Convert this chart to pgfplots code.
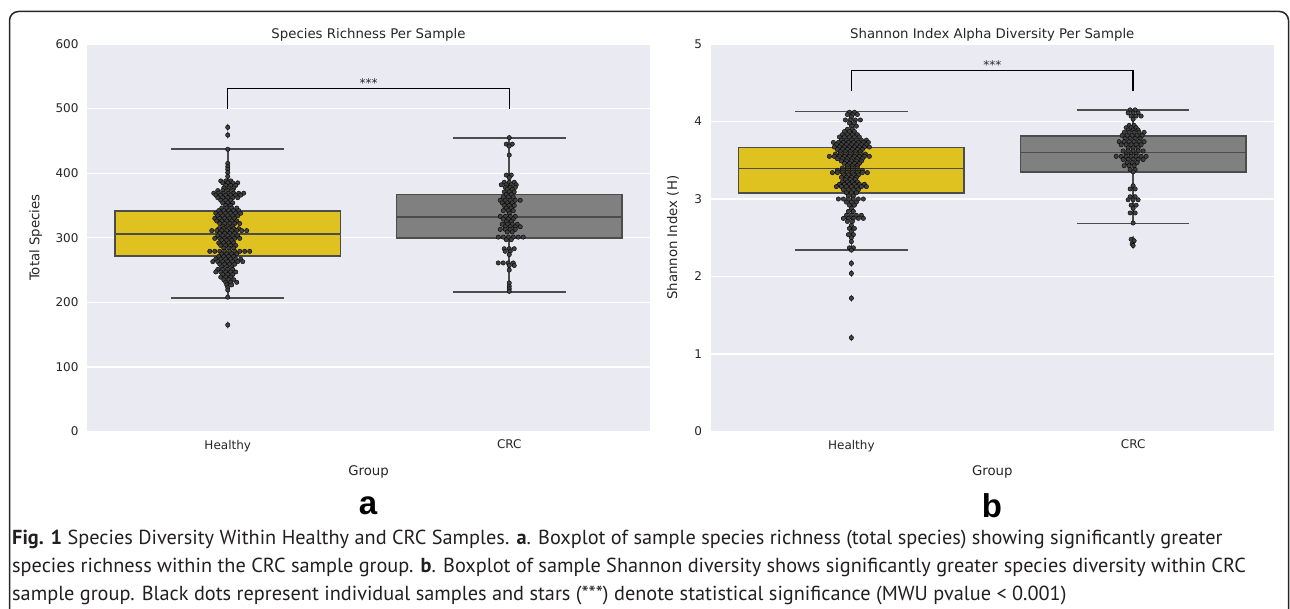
\documentclass[border=0pt]{standalone}
\usepackage{fontspec}
\setmainfont{DejaVu Sans}
\newfontfamily\capfont{PT Sans}
\newfontfamily\lblfont{Liberation Sans}
\usepackage{pgfplots}
\usepackage{pgfplotstable}
\pgfplotsset{compat=1.18}
\usepgfplotslibrary{statistics}

\definecolor{bgc}{HTML}{EAEAF2}
\definecolor{yel}{HTML}{DFC120}
\definecolor{gry}{HTML}{808080}
\definecolor{lc}{HTML}{4C4C4C}
\definecolor{dotc}{HTML}{404040}
\definecolor{tc}{HTML}{262626}
\definecolor{capc}{HTML}{231F20}

% swarm points: o = horizontal offset in px from the group centre, y = value
\pgfplotstableread[row sep=\\]{
o y\\
0 471\\ 0 459\\ 0 437\\ 0 415\\ 0 410\\ 0 406\\ 0 401\\ 0 395\\
-7 388\\ -2 388\\ 3 388\\
-5 385\\ 0 385\\ 5 385\\ 10 385\\
-2 381\\ 3 381\\ 8 381\\
-4 377\\ 1 377\\ 6 377\\
-10 373\\ -5 373\\ 0 373\\ 5 373\\
-14 369\\ -9 369\\ -4 369\\ 1 369\\ 6 369\\ 11 369\\ 16 369\\
-12 366\\ -7 366\\ -2 366\\ 3 366\\ 8 366\\ 13 366\\
-10 362\\ -5 362\\ 0 362\\ 5 362\\ 10 362\\
-7 358\\ -2 358\\ 3 358\\
-5 354\\ 0 354\\ 5 354\\
-2 350\\ 3 350\\
-6 346\\ -1 346\\ 4 346\\ 9 346\\
-9 342\\ -4 342\\ 1 342\\ 6 342\\ 11 342\\
-12 338\\ -7 338\\ -2 338\\ 3 338\\ 8 338\\ 13 338\\
-10 334\\ -5 334\\ 0 334\\ 5 334\\ 10 334\\
-13 330\\ -8 330\\ -3 330\\ 2 330\\ 7 330\\
-11 326\\ -6 326\\ -1 326\\ 4 326\\ 9 326\\
-8 322\\ -3 322\\ 2 322\\ 7 322\\ 12 322\\
-5 318\\ 0 318\\ 5 318\\
-9 314\\ -4 314\\ 1 314\\ 6 314\\ 11 314\\
-16 311\\ -11 311\\ -6 311\\ -1 311\\ 4 311\\ 9 311\\ 14 311\\ 19 311\\
-8 307\\ -3 307\\ 2 307\\ 7 307\\
-10 303\\ -5 303\\ 0 303\\ 5 303\\ 10 303\\
-13 299\\ -8 299\\ -3 299\\ 2 299\\ 7 299\\ 12 299\\
-6 296\\ -1 296\\ 4 296\\
-9 292\\ -4 292\\ 1 292\\ 6 292\\
-7 288\\ -2 288\\ 3 288\\ 8 288\\
-4 284\\ 1 284\\ 6 284\\
-18 279\\ -13 279\\ -8 279\\ -3 279\\ 2 279\\ 7 279\\ 12 279\\ 17 279\\ 22 279\\
-6 275\\ -1 275\\ 4 275\\ 9 275\\
-9 271\\ -4 271\\ 1 271\\ 6 271\\
-12 267\\ -7 267\\ -2 267\\ 3 267\\ 8 267\\ 13 267\\
-15 263\\ -10 263\\ -5 263\\ 0 263\\ 5 263\\ 10 263\\ 15 263\\
-8 259\\ -3 259\\ 2 259\\ 7 259\\
-6 255\\ -1 255\\ 4 255\\
-10 251\\ -5 251\\ 0 251\\ 5 251\\
-12 247\\ -7 247\\ -2 247\\ 3 247\\ 8 247\\
-5 243\\ 0 243\\ 5 243\\
-7 239\\ -2 239\\ 3 239\\
-4 235\\ 1 235\\ 6 235\\
-2 231\\ 3 231\\ 9 231\\
-1 227\\ 4 227\\
0 223\\ 0 219\\ 0 208\\ 0 165\\
}\richH

\pgfplotstableread[row sep=\\]{
o y\\
0 455\\ -3 445\\ 3 445\\ 0 442\\ 0 428\\
-3 397\\ 2 397\\ 0 393\\
-5 386\\ 0 386\\ 5 386\\
-8 382\\ -3 382\\ 2 382\\ 7 382\\
-4 378\\ 1 378\\ 6 378\\
-2 375\\ 3 375\\
-5 371\\ 0 371\\ 5 371\\
-3 367\\ 2 367\\
-6 363\\ -1 363\\ 4 363\\
-9 358\\ -4 358\\ 1 358\\ 6 358\\ 11 358\\
-7 354\\ -2 354\\ 3 354\\
-5 350\\ 0 350\\ 5 350\\
-3 346\\ 2 346\\
-6 342\\ -1 342\\ 4 342\\
0 338\\
-9 333\\ -4 333\\ 1 333\\ 6 333\\
-6 329\\ -1 329\\ 4 329\\
-3 325\\ 2 325\\
-7 321\\ -2 321\\ 3 321\\ 8 321\\
-4 317\\ 1 317\\ 6 317\\ 11 317\\
-9 313\\ -4 313\\ 1 313\\ 6 313\\
-2 309\\ 3 309\\
-11 301\\ -6 301\\ -1 301\\ 4 301\\ 9 301\\ 14 301\\
-3 297\\ 2 297\\
-5 283\\ 0 283\\ 5 283\\
-4 279\\ 1 279\\
0 274\\
-11 261\\ -6 261\\ -1 261\\ 4 261\\
0 257\\ 5 257\\
0 250\\
0 230\\ 0 225\\ 0 221\\ 0 217\\
}\richC

\pgfplotstableread[row sep=\\]{
o y\\
-2 4.12\\ 3 4.12\\
-4 4.09\\ 1 4.09\\ 6 4.09\\
0 4.06\\
-6 4.02\\ -1 4.02\\ 4 4.02\\ 9 4.02\\
-2 3.98\\ 3 3.98\\
0 3.94\\ 5 3.94\\
-4 3.90\\ 1 3.90\\
-7 3.87\\ -2 3.87\\ 3 3.87\\
-9 3.83\\ -4 3.83\\ 1 3.83\\ 6 3.83\\
-12 3.80\\ -7 3.80\\ -2 3.80\\ 3 3.80\\ 8 3.80\\
-10 3.76\\ -5 3.76\\ 0 3.76\\ 5 3.76\\ 10 3.76\\ 15 3.76\\
-18 3.73\\ -13 3.73\\ -8 3.73\\ -3 3.73\\ 2 3.73\\ 7 3.73\\ 12 3.73\\ 17 3.73\\
-15 3.70\\ -10 3.70\\ -5 3.70\\ 0 3.70\\ 5 3.70\\ 10 3.70\\ 15 3.70\\
-17 3.67\\ -12 3.67\\ -7 3.67\\ -2 3.67\\ 3 3.67\\ 8 3.67\\ 13 3.67\\ 18 3.67\\
-14 3.64\\ -9 3.64\\ -4 3.64\\ 1 3.64\\ 6 3.64\\ 11 3.64\\
-11 3.61\\ -6 3.61\\ -1 3.61\\ 4 3.61\\ 9 3.61\\
-16 3.58\\ -11 3.58\\ -6 3.58\\ -1 3.58\\ 4 3.58\\ 9 3.58\\ 14 3.58\\
-22 3.55\\ -17 3.55\\ -12 3.55\\ -7 3.55\\ -2 3.55\\ 3 3.55\\ 8 3.55\\ 13 3.55\\ 18 3.55\\
-14 3.52\\ -9 3.52\\ -4 3.52\\ 1 3.52\\ 6 3.52\\ 11 3.52\\
-10 3.49\\ -5 3.49\\ 0 3.49\\ 5 3.49\\ 10 3.49\\
-7 3.46\\ -2 3.46\\ 3 3.46\\ 8 3.46\\
-4 3.43\\ 1 3.43\\ 6 3.43\\
-9 3.40\\ -4 3.40\\ 1 3.40\\ 6 3.40\\
-14 3.37\\ -9 3.37\\ -4 3.37\\ 1 3.37\\ 6 3.37\\ 11 3.37\\
-19 3.34\\ -14 3.34\\ -9 3.34\\ -4 3.34\\ 1 3.34\\ 6 3.34\\ 11 3.34\\ 16 3.34\\
-8 3.31\\ -3 3.31\\ 2 3.31\\ 7 3.31\\
-10 3.28\\ -5 3.28\\ 0 3.28\\ 5 3.28\\
-6 3.25\\ -1 3.25\\ 4 3.25\\
-9 3.22\\ -4 3.22\\ 1 3.22\\ 6 3.22\\
-12 3.19\\ -7 3.19\\ -2 3.19\\ 3 3.19\\ 8 3.19\\ 13 3.19\\
-15 3.16\\ -10 3.16\\ -5 3.16\\ 0 3.16\\ 5 3.16\\ 10 3.16\\ 15 3.16\\
-8 3.12\\ -3 3.12\\ 2 3.12\\ 7 3.12\\
-5 3.08\\ 0 3.08\\ 5 3.08\\
-3 3.04\\ 2 3.04\\
-13 3.00\\ -8 3.00\\ -3 3.00\\ 2 3.00\\ 7 3.00\\ 12 3.00\\
-5 2.96\\ 0 2.96\\ 5 2.96\\
-2 2.92\\ 3 2.92\\
0 2.88\\
-3 2.84\\ 2 2.84\\
-5 2.79\\ 0 2.79\\ 5 2.79\\ 10 2.79\\
-8 2.75\\ -3 2.75\\ 2 2.75\\ 7 2.75\\ 12 2.75\\
-4 2.71\\ 1 2.71\\
0 2.66\\
-2 2.62\\ 3 2.62\\
0 2.58\\
-3 2.54\\ 2 2.54\\
0 2.50\\ 0 2.45\\
-2 2.37\\ 2 2.37\\ 0 2.34\\
0 2.17\\ 0 2.04\\ 0 1.72\\ 0 1.21\\
}\shanH

\pgfplotstableread[row sep=\\]{
o y\\
-3 4.15\\ 2 4.15\\
-5 4.11\\ 0 4.11\\ 5 4.11\\
-2 4.07\\ 3 4.07\\ 8 4.07\\
0 4.03\\
-4 3.95\\ 1 3.95\\
-7 3.92\\ -2 3.92\\ 3 3.92\\
-5 3.89\\ 0 3.89\\ 5 3.89\\
-9 3.86\\ -4 3.86\\ 1 3.86\\ 6 3.86\\ 11 3.86\\
-11 3.82\\ -6 3.82\\ -1 3.82\\ 4 3.82\\ 9 3.82\\
-8 3.78\\ -3 3.78\\ 2 3.78\\ 7 3.78\\
-14 3.74\\ -9 3.74\\ -4 3.74\\ 1 3.74\\ 6 3.74\\ 11 3.74\\
-12 3.70\\ -7 3.70\\ -2 3.70\\ 3 3.70\\ 8 3.70\\
-5 3.66\\ 0 3.66\\ 5 3.66\\
-10 3.62\\ -5 3.62\\ 0 3.62\\ 5 3.62\\ 10 3.62\\
-7 3.58\\ -2 3.58\\ 3 3.58\\
-17 3.55\\ -12 3.55\\ -7 3.55\\ -2 3.55\\ 3 3.55\\ 8 3.55\\ 13 3.55\\
-10 3.51\\ -5 3.51\\ 0 3.51\\ 5 3.51\\ 10 3.51\\
-6 3.47\\ -1 3.47\\ 4 3.47\\
-9 3.43\\ -4 3.43\\ 1 3.43\\
-3 3.38\\ 2 3.38\\
0 3.35\\
0 3.17\\
-3 3.13\\ 2 3.13\\
-3 3.03\\ 2 3.03\\
-5 2.99\\ 0 2.99\\ 5 2.99\\
-2 2.92\\ 3 2.92\\
0 2.88\\
-3 2.82\\ 2 2.82\\
0 2.69\\
-2 2.48\\ 1 2.46\\ -1 2.42\\ 0 2.40\\
}\shanC

\pgfplotsset{
  sbn/.style={
    scale only axis, height=387.5pt,
    anchor=south west,
    axis background/.style={fill=bgc},
    axis line style={draw=none},
    major tick length=0pt,
    ymajorgrids, grid style={white, line width=1.3pt},
    xmin=-0.5, xmax=1.5,
    xtick={0,1}, xticklabels={Healthy,CRC},
    tick label style={font=\fontsize{12}{14}\selectfont, text=tc},
    /pgf/number format/assume math mode=true,
    yticklabel style={xshift=-5pt},
    xticklabel style={yshift=-5pt},
    label style={font=\fontsize{13.3}{16}\selectfont, text=tc},
    xlabel style={at={(axis description cs:0.5,-0.1148)}, anchor=base},
    title style={font=\fontsize{13.3}{16}\selectfont, text=tc,
      at={(axis description cs:0.5,1)}, anchor=base, yshift=-0.5pt},
    clip=false,
    boxplot/draw direction=y,
    boxplot/every median/.style={draw=lc, line width=1.6pt},
    xlabel={Group},
  },
  swarm/.style={only marks, mark=*, mark size=2.2pt,
    mark options={fill=dotc, draw=none}},
  flier/.style={only marks, mark=diamond*, mark size=3.2pt,
    mark options={fill=lc, draw=lc, xscale=0.65}},
  bxs/.style={draw=lc, line width=1.6pt},
}

\begin{document}
\begin{tikzpicture}
\path[use as bounding box] (0,0) rectangle (1290pt,-609pt);
\draw[line width=1.5pt, color=black!85, rounded corners=9pt]
  (9.5pt,-640pt) -- (9.5pt,-11.5pt) -- (1288.5pt,-11.5pt) -- (1288.5pt,-640pt);

% ---- a: species richness
\begin{axis}[sbn, at={(87pt,-431.5pt)}, width=563pt,
  ymin=0, ymax=600, ytick={0,100,...,600},
  title={Species Richness Per Sample},
  ylabel={Total Species},
  ylabel style={at={(axis description cs:-0.0844,0.5)}, anchor=base}]
\addplot[bxs, fill=yel, boxplot prepared={draw position=0,
  lower whisker=207, lower quartile=271.7, median=305.7,
  upper quartile=341.8, upper whisker=437.8,
  box extend=0.8, whisker extend=0.4}] coordinates {};
\addplot[bxs, fill=gry, boxplot prepared={draw position=1,
  lower whisker=216, lower quartile=299.5, median=332,
  upper quartile=367, upper whisker=454.8,
  box extend=0.8, whisker extend=0.4}] coordinates {};
\addplot[flier] coordinates {(0,471) (0,459) (0,165)};
\addplot[swarm] table[x expr=\thisrow{o}/282, y=y] {\richH};
\addplot[swarm] table[x expr=1+\thisrow{o}/282, y=y] {\richC};
\addplot[black, line width=1.4pt] coordinates {(0,500) (0,530.7) (1,530.7) (1,500)};
\node[anchor=base, font=\fontsize{12}{14}\selectfont, text=tc] at (axis cs:0.5,533) {***};
\end{axis}

% ---- b: shannon index
\begin{axis}[sbn, at={(710.5pt,-431.5pt)}, width=563.5pt,
  ymin=0, ymax=5, ytick={0,1,...,5},
  title={Shannon Index Alpha Diversity Per Sample},
  ylabel={Shannon Index (H)},
  ylabel style={at={(axis description cs:-0.0594,0.5)}, anchor=base}]
\addplot[bxs, fill=yel, boxplot prepared={draw position=0,
  lower whisker=2.342, lower quartile=3.08, median=3.396,
  upper quartile=3.662, upper whisker=4.127,
  box extend=0.8, whisker extend=0.4}] coordinates {};
\addplot[bxs, fill=gry, boxplot prepared={draw position=1,
  lower whisker=2.686, lower quartile=3.352, median=3.602,
  upper quartile=3.813, upper whisker=4.148,
  box extend=0.8, whisker extend=0.4}] coordinates {};
\addplot[flier] coordinates {(0,2.17) (0,2.04) (0,1.72) (0,1.21)
  (1,2.48) (1,2.46) (1,2.42) (1,2.40)};
\addplot[swarm] table[x expr=\thisrow{o}/282, y=y] {\shanH};
\addplot[swarm] table[x expr=1+\thisrow{o}/282, y=y] {\shanC};
\addplot[black, line width=1.4pt] coordinates {(0,4.397) (0,4.655) (1,4.655) (1,4.397)};
\node[anchor=base, font=\fontsize{12}{14}\selectfont, text=tc] at (axis cs:0.5,4.665) {***};
\end{axis}

% panel letters
\node[font=\lblfont\bfseries\fontsize{33}{36}\selectfont] at (368pt,-505.5pt) {a};
\node[font=\lblfont\bfseries\fontsize{33}{36}\selectfont] at (992pt,-505.5pt) {b};

% caption
\begin{scope}[every node/.style={anchor=base west, inner sep=0pt, text=capc,
    font=\capfont\fontsize{20.3}{24}\selectfont}]
\node at (12pt,-544pt) {\textbf{Fig. 1} Species Diversity Within Healthy and CRC Samples. \textbf{a}. Boxplot of sample species richness (total species) showing significantly greater};
\node at (12pt,-572pt) {species richness within the CRC sample group. \textbf{b}. Boxplot of sample Shannon diversity shows significantly greater species diversity within CRC};
\node at (12pt,-600pt) {sample group. Black dots represent individual samples and stars (***) denote statistical significance (MWU pvalue < 0.001)};
\end{scope}
\end{tikzpicture}
\end{document}
